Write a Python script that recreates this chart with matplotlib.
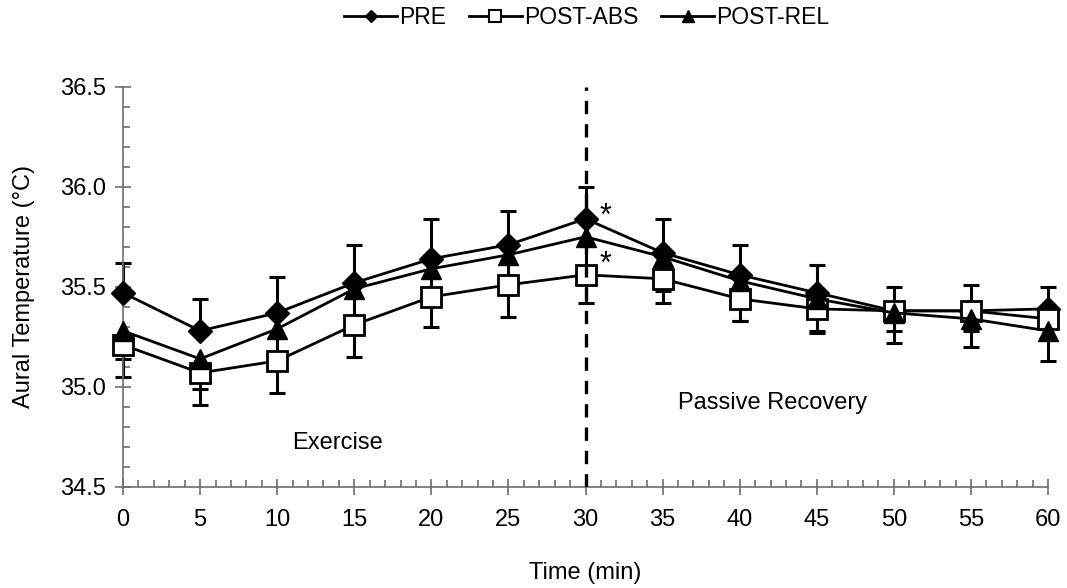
import matplotlib
matplotlib.use("Agg")
import matplotlib.pyplot as plt
import numpy as np
from matplotlib.lines import Line2D
from matplotlib.ticker import MultipleLocator

plt.rcParams['font.family'] = ['Liberation Sans', 'DejaVu Sans']

# data
time = [0, 5, 10, 15, 20, 25, 30, 35, 40, 45, 50, 55, 60]
pre = [35.47, 35.28, 35.37, 35.52, 35.64, 35.71, 35.84, 35.67, 35.56, 35.47, 35.38, 35.38, 35.39]
pre_sd = [0.15, 0.16, 0.18, 0.19, 0.20, 0.17, 0.16, 0.17, 0.15, 0.14, 0.12, 0.13, 0.11]
post_abs = [35.21, 35.07, 35.13, 35.31, 35.45, 35.51, 35.56, 35.54, 35.44, 35.39, 35.38, 35.38, 35.34]
post_abs_sd = [0.16, 0.16, 0.16, 0.16, 0.15, 0.16, 0.14, 0.12, 0.11, 0.11, 0.10, 0.10, 0.10]
post_rel = [35.28, 35.14, 35.29, 35.49, 35.59, 35.66, 35.75, 35.65, 35.53, 35.44, 35.37, 35.34, 35.28]
post_rel_sd = [0.14, 0.15, 0.15, 0.15, 0.15, 0.15, 0.15, 0.17, 0.20, 0.17, 0.15, 0.14, 0.15]

# significance marks (time, baseline value)
stars_t = [31.3, 31.3]
stars_y = [35.81, 35.57]

fig = plt.figure(figsize=(10.67, 5.88), dpi=100)
ax = fig.add_axes([0.1153, 0.1718, 0.9822 - 0.1153, 0.8526 - 0.1718])

t = np.array(time)
axis_grey = '#6e6e6e'


def err_bars(y, sd, up):
    y = np.array(y)
    sd = np.array(sd)
    end = y + sd if up else y - sd
    ax.vlines(t, y, end, colors='black', lw=2.2, zorder=2, clip_on=False)
    ax.plot(t, end, ls='none', marker='_', ms=12, mew=2.2, color='black',
            zorder=2, clip_on=False)


err_bars(pre, pre_sd, True)
err_bars(post_abs, post_abs_sd, False)
err_bars(post_rel, post_rel_sd, False)

ax.plot(t, pre, color='black', lw=2, marker='D', ms=12, mfc='black', mec='black',
        zorder=3, clip_on=False)
ax.plot(t, post_abs, color='black', lw=2, marker='s', ms=15, mfc='white', mec='black',
        mew=2, zorder=4, clip_on=False)
ax.plot(t, post_rel, color='black', lw=2, marker='^', ms=15, mfc='black', mec='black',
        zorder=5, clip_on=False)

ax.axvline(30, color='black', lw=2.4, dashes=(4, 3), zorder=6)

for xs, ys in zip(stars_t, stars_y):
    ax.text(xs, ys, '*', fontsize=22, ha='center', va='baseline')

ax.text(11, 34.72, 'Exercise', fontsize=17, ha='left', va='center')
ax.text(36, 34.92, 'Passive Recovery', fontsize=17, ha='left', va='center')

ax.set_xlim(0, 60)
ax.set_ylim(34.5, 36.5)
ax.xaxis.set_major_locator(MultipleLocator(5))
ax.xaxis.set_minor_locator(MultipleLocator(1))
ax.yaxis.set_major_locator(MultipleLocator(0.5))
ax.yaxis.set_minor_locator(MultipleLocator(0.1))
ax.yaxis.set_major_formatter(matplotlib.ticker.FormatStrFormatter('%.1f'))

for s in ['top', 'right']:
    ax.spines[s].set_visible(False)
for s in ['left', 'bottom']:
    ax.spines[s].set_color(axis_grey)
    ax.spines[s].set_linewidth(1.2)

ax.tick_params(which='major', direction='inout', length=12, width=1.2,
               color=axis_grey, labelsize=17, pad=6)
ax.tick_params(axis='x', which='major', pad=10)
ax.tick_params(which='minor', direction='in', length=5, width=1.2, color=axis_grey)

ax.set_xlabel('Time (min)', fontsize=17, labelpad=22)
ax.set_ylabel('Aural Temperature (°C)', fontsize=17, labelpad=18)

handles = [
    Line2D([], [], color='black', lw=2, marker='D', ms=6, mfc='black'),
    Line2D([], [], color='black', lw=2, marker='s', ms=8, mfc='white', mew=1.5),
    Line2D([], [], color='black', lw=2, marker='^', ms=8, mfc='black'),
]
fig.legend(handles, ['PRE', 'POST-ABS', 'POST-REL'], loc='center',
           bbox_to_anchor=(0.55, 0.97), ncol=3, frameon=False, fontsize=16.5,
           handlelength=2.3, handletextpad=0.1, columnspacing=1.0)

fig.savefig('out.png', dpi=100)
